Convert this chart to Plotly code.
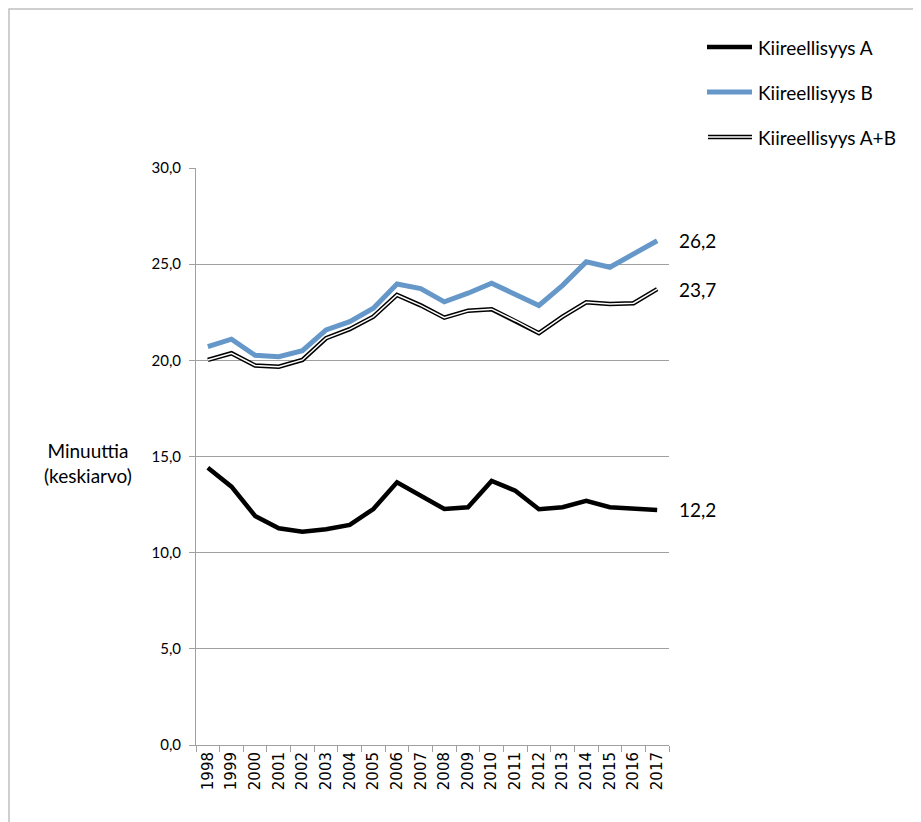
import plotly.graph_objects as go

years = [str(y) for y in range(1998, 2018)]
kiire_a = [14.42, 13.43, 11.91, 11.27, 11.09, 11.22, 11.44, 12.27, 13.66, 12.96,
           12.27, 12.36, 13.73, 13.22, 12.26, 12.36, 12.69, 12.36, 12.31, 12.22]
kiire_b = [20.71, 21.10, 20.26, 20.19, 20.50, 21.58, 22.01, 22.71, 23.97, 23.73,
           23.04, 23.49, 24.01, 23.44, 22.85, 23.90, 25.12, 24.84, 25.53, 26.22]
kiire_ab = [20.02, 20.37, 19.73, 19.67, 20.02, 21.15, 21.62, 22.27, 23.40, 22.86,
            22.22, 22.58, 22.66, 22.06, 21.41, 22.27, 23.02, 22.93, 22.97, 23.70]
series_names = ["Kiireellisyys A", "Kiireellisyys B", "Kiireellisyys A+B"]
y_ticks = [0, 5, 10, 15, 20, 25, 30]
y_title = "Minuuttia<br>(keskiarvo)"

FONT = "Lato"
OFF = 8  # page body margin
W, H = 921 - OFF, 822 - OFF
L, R, T, B = 196 - OFF, 669 - OFF, 168 - OFF, 745 - OFF

def px(x):
    return (x - OFF - L) / (R - L)

def py(y):
    return (B - (y - OFF)) / (B - T)

fig = go.Figure()
fig.add_trace(go.Scatter(x=years, y=kiire_a, mode="lines", name=series_names[0],
                         line=dict(color="#000000", width=4.5), showlegend=False))
fig.add_trace(go.Scatter(x=years, y=kiire_b, mode="lines", name=series_names[1],
                         line=dict(color="#6598c9", width=5), showlegend=False))
fig.add_trace(go.Scatter(x=years, y=kiire_ab, mode="lines", name=series_names[2],
                         line=dict(color="#000000", width=4.5), showlegend=False))
fig.add_trace(go.Scatter(x=years, y=kiire_ab, mode="lines", name=series_names[2],
                         line=dict(color="#ffffff", width=1.5), showlegend=False,
                         hoverinfo="skip"))

# end labels
for s in [kiire_b, kiire_ab, kiire_a]:
    fig.add_annotation(x=px(677), y=s[-1], xref="paper", yref="y",
                       text=f"{s[-1]:.1f}".replace(".", ","), showarrow=False,
                       xanchor="left", yanchor="middle",
                       font=dict(family=FONT, size=19, color="#000"))

# y title
fig.add_annotation(x=px(88), y=py(463), xref="paper", yref="paper", text=y_title,
                   showarrow=False, xanchor="center", yanchor="middle",
                   font=dict(family=FONT, size=19, color="#000"))

# custom legend
leg_y = [47, 92, 137]
shapes = []
for i, name in enumerate(series_names):
    yy = py(leg_y[i])
    if i == 0:
        shapes.append(dict(type="line", xref="paper", yref="paper", x0=px(707), x1=px(752),
                           y0=yy, y1=yy, line=dict(color="#000", width=4.5)))
    elif i == 1:
        shapes.append(dict(type="line", xref="paper", yref="paper", x0=px(707), x1=px(752),
                           y0=yy, y1=yy, line=dict(color="#6598c9", width=5)))
    else:
        shapes.append(dict(type="line", xref="paper", yref="paper", x0=px(708), x1=px(752),
                           y0=yy, y1=yy, line=dict(color="#000", width=4.5)))
        shapes.append(dict(type="line", xref="paper", yref="paper", x0=px(708), x1=px(752),
                           y0=yy, y1=yy, line=dict(color="#fff", width=1.5)))
    fig.add_annotation(x=px(756), y=yy, xref="paper", yref="paper", text=name,
                       showarrow=False, xanchor="left", yanchor="middle",
                       font=dict(family=FONT, size=19, color="#000"))

# outer border (as close to the page corner as the figure allows)
shapes.append(dict(type="rect", xref="paper", yref="paper", x0=px(9), x1=px(940),
                   y0=py(840), y1=py(9), line=dict(color="#c0c0c0", width=1.5),
                   layer="below"))

fig.update_layout(
    width=W, height=H,
    margin=dict(l=L, r=W - R, t=T, b=H - B),
    paper_bgcolor="white", plot_bgcolor="white",
    separators=", ",
    font=dict(family=FONT, size=15, color="#000"),
    shapes=shapes,
    showlegend=False,
    xaxis=dict(type="category", tickangle=-90, tickson="boundaries", ticks="outside",
               ticklen=6, tickcolor="#a0a0a0", showline=True, linecolor="#a0a0a0",
               linewidth=1, showgrid=False,
               tickfont=dict(family="DejaVu Sans", size=15),
               range=[-0.5, len(years) - 0.5]),
    yaxis=dict(range=[0, 30], tickvals=y_ticks, tickformat=".1f", ticks="outside",
               ticklen=6, tickcolor="#a0a0a0", showline=True, linecolor="#a0a0a0",
               linewidth=1, showgrid=True, gridcolor="#a0a0a0", gridwidth=1,
               zeroline=False, ticklabelstandoff=5, tickfont=dict(family=FONT, size=15)),
)

fig.write_html("out.html")
